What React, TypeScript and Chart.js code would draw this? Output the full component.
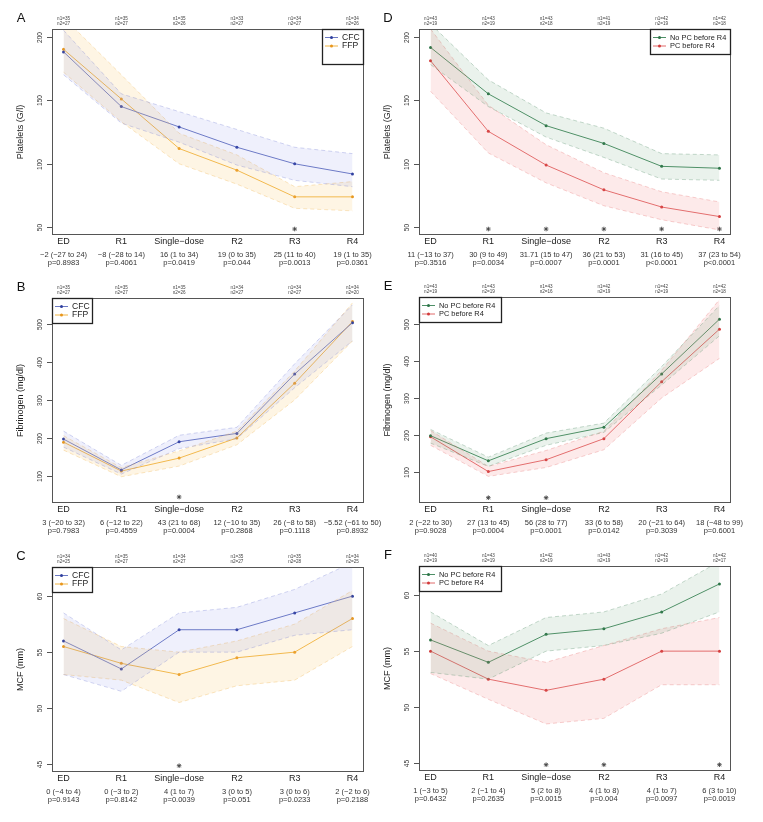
import React, { useEffect, useRef } from "react";
import { Chart, registerables } from "chart.js";
Chart.register(...registerables);

const FONT = '"Liberation Sans", Arial, sans-serif';
const M = "\u2212";

const categories = ["ED", "R1", "Single" + M + "dose", "R2", "R3", "R4"];

// ---------- Panel A: Platelets, CFC vs FFP ----------
const aCfcMean = [188, 145, 129, 113, 100, 92];
const aCfcLow = [170, 132, 117, 99, 87, 82];
const aCfcHigh = [205, 155, 141, 127, 113, 108];
const aFfpMean = [190, 151, 112, 95, 74, 74];
const aFfpLow = [172, 133, 100, 84, 65, 63];
const aFfpHigh = [215, 170, 124, 107, 82, 86];
const aN1 = ["n1=35", "n1=35", "n1=35", "n1=33", "n1=34", "n1=34"];
const aN2 = ["n2=27", "n2=27", "n2=26", "n2=27", "n2=27", "n2=26"];
const aDiff = [M + "2 (" + M + "27 to 24)", M + "8 (" + M + "28 to 14)", "16 (1 to 34)", "19 (0 to 35)", "25 (11 to 40)", "19 (1 to 35)"];
const aP = ["p=0.8983", "p=0.4061", "p=0.0419", "p=0.044", "p=0.0013", "p=0.0361"];
const aStars = ["R3"];
const aTicks = [50, 100, 150, 200];

// ---------- Panel B: Fibrinogen, CFC vs FFP ----------
const bCfcMean = [197, 116, 190, 212, 368, 503];
const bCfcLow = [176, 105, 172, 198, 332, 455];
const bCfcHigh = [218, 128, 207, 228, 395, 550];
const bFfpMean = [189, 113, 147, 200, 344, 506];
const bFfpLow = [168, 98, 126, 182, 300, 455];
const bFfpHigh = [206, 122, 166, 218, 376, 555];
const bN1 = ["n1=35", "n1=35", "n1=35", "n1=34", "n1=34", "n1=34"];
const bN2 = ["n2=27", "n2=27", "n2=26", "n2=27", "n2=27", "n2=20"];
const bDiff = ["3 (" + M + "20 to 32)", "6 (" + M + "12 to 22)", "43 (21 to 68)", "12 (" + M + "10 to 35)", "26 (" + M + "8 to 58)", M + "5.52 (" + M + "61 to 50)"];
const bP = ["p=0.7983", "p=0.4559", "p=0.0004", "p=0.2868", "p=0.1118", "p=0.8932"];
const bStars = ["Single" + M + "dose"];
const bTicks = [100, 200, 300, 400, 500];

// ---------- Panel C: MCF, CFC vs FFP ----------
const cCfcMean = [56, 53.5, 57, 57, 58.5, 60];
const cCfcLow = [53, 51.5, 55, 55, 56.5, 57];
const cCfcHigh = [58.5, 55.2, 58.5, 59, 60.6, 63];
const cFfpMean = [55.5, 54, 53, 54.5, 55, 58];
const cFfpLow = [53, 52.5, 50.5, 52, 52.5, 55.5];
const cFfpHigh = [58, 55.5, 55, 56, 57.5, 60.5];
const cN1 = ["n1=34", "n1=35", "n1=34", "n1=35", "n1=35", "n1=34"];
const cN2 = ["n2=25", "n2=27", "n2=27", "n2=27", "n2=28", "n2=25"];
const cDiff = ["0 (" + M + "4 to 4)", "0 (" + M + "3 to 2)", "4 (1 to 7)", "3 (0 to 5)", "3 (0 to 6)", "2 (" + M + "2 to 6)"];
const cP = ["p=0.9143", "p=0.8142", "p=0.0039", "p=0.051", "p=0.0233", "p=0.2188"];
const cStars = ["Single" + M + "dose"];
const cTicks = [45, 50, 55, 60];

// ---------- Panel D: Platelets, No PC vs PC before R4 ----------
const dNoMean = [191.5, 155, 130, 116, 98, 96.5];
const dNoLow = [178, 145, 121, 105, 88, 87];
const dNoHigh = [210, 166, 140, 128, 108, 107];
const dPcMean = [181, 125.5, 99, 79.5, 66, 58.5];
const dPcLow = [157, 108.5, 85, 67, 56, 48];
const dPcHigh = [206, 146, 115, 93, 78, 70];
const dN1 = ["n1=43", "n1=43", "n1=43", "n1=41", "n1=42", "n1=42"];
const dN2 = ["n2=19", "n2=19", "n2=18", "n2=19", "n2=19", "n2=18"];
const dDiff = ["11 (" + M + "13 to 37)", "30 (9 to 49)", "31.71 (15 to 47)", "36 (21 to 53)", "31 (16 to 45)", "37 (23 to 54)"];
const dP = ["p=0.3516", "p=0.0034", "p=0.0007", "p=0.0001", "p<0.0001", "p<0.0001"];
const dStars = ["R1", "Single" + M + "dose", "R2", "R3", "R4"];

// ---------- Panel E: Fibrinogen, No PC vs PC before R4 ----------
const eNoMean = [198, 130, 190, 221, 365, 513];
const eNoLow = [178, 115, 172, 207, 335, 468];
const eNoHigh = [215, 140, 205, 232, 385, 550];
const ePcMean = [195, 101, 133, 190, 344, 486];
const ePcLow = [172, 88, 112, 160, 300, 407];
const ePcHigh = [212, 115, 158, 210, 375, 566];
const eN1 = ["n1=43", "n1=43", "n1=43", "n1=42", "n1=42", "n1=42"];
const eN2 = ["n2=19", "n2=19", "n2=16", "n2=19", "n2=19", "n2=18"];
const eDiff = ["2 (" + M + "22 to 30)", "27 (13 to 45)", "56 (28 to 77)", "33 (6 to 58)", "20 (" + M + "21 to 64)", "18 (" + M + "48 to 99)"];
const eP = ["p=0.9028", "p=0.0004", "p=0.0001", "p=0.0142", "p=0.3039", "p=0.6001"];
const eStars = ["R1", "Single" + M + "dose"];

// ---------- Panel F: MCF, No PC vs PC before R4 ----------
const fNoMean = [56, 54, 56.5, 57, 58.5, 61];
const fNoLow = [53.1, 52.5, 55, 55.5, 56.6, 58.5];
const fNoHigh = [58.5, 55.5, 58, 58.5, 60.1, 63];
const fPcMean = [55, 52.5, 51.5, 52.5, 55, 55];
const fPcLow = [53, 50.7, 48.5, 49, 52, 52];
const fPcHigh = [57.5, 55, 54, 55.5, 57, 58];
const fN1 = ["n1=40", "n1=43", "n1=42", "n1=43", "n1=42", "n1=42"];
const fN2 = ["n2=19", "n2=19", "n2=19", "n2=19", "n2=19", "n2=17"];
const fDiff = ["1 (" + M + "3 to 5)", "2 (" + M + "1 to 4)", "5 (2 to 8)", "4 (1 to 8)", "4 (1 to 7)", "6 (3 to 10)"];
const fP = ["p=0.6432", "p=0.2635", "p=0.0015", "p=0.004", "p=0.0097", "p=0.0019"];
const fStars = ["Single" + M + "dose", "R2", "R4"];

const groupLabelsTreat = ["CFC", "FFP"];
const groupLabelsPC = ["No PC before R4", "PC before R4"];

const STYLE = {
  cfc: { line: "#6b79c2", point: "#2f3f9e", band: "rgba(120,130,230,0.12)", edge: "rgba(110,120,210,0.38)" },
  ffp: { line: "#f0b444", point: "#e8961c", band: "rgba(252,205,120,0.2)", edge: "rgba(240,185,90,0.45)" },
  no: { line: "#4d8f66", point: "#2c7447", band: "rgba(90,155,110,0.13)", edge: "rgba(80,140,100,0.4)" },
  pc: { line: "#e06a6a", point: "#d23a3a", band: "rgba(245,130,130,0.17)", edge: "rgba(230,110,110,0.4)" },
};

type Series = { label: string; mean: number[]; low: number[]; high: number[]; st: any };
type Cfg = {
  letter: string; ox: number; oy: number; w: number; h: number;
  area: { l: number; t: number; r: number; b: number };
  yMin: number; yMax: number; ticks: number[]; title: string;
  series: Series[]; n1: string[]; n2: string[]; diff: string[]; p: string[];
  stars: string[]; starLevel: number;
  legend: { side: string; w: number; h: number; font: number };
};

const panels: Cfg[] = [
  {
    letter: "A", ox: 0, oy: 0, w: 385, h: 271, area: { l: 52, t: 29, r: 364, b: 235 },
    yMin: 44, yMax: 206, ticks: aTicks, title: "Platelets (G/l)",
    series: [
      { label: groupLabelsTreat[0], mean: aCfcMean, low: aCfcLow, high: aCfcHigh, st: STYLE.cfc },
      { label: groupLabelsTreat[1], mean: aFfpMean, low: aFfpLow, high: aFfpHigh, st: STYLE.ffp },
    ],
    n1: aN1, n2: aN2, diff: aDiff, p: aP, stars: aStars, starLevel: 48.7,
    legend: { side: "right", w: 42, h: 36, font: 8.6 },
  },
  {
    letter: "B", ox: 0, oy: 271, w: 385, h: 271, area: { l: 52, t: 298, r: 364, b: 503 },
    yMin: 29, yMax: 568, ticks: bTicks, title: "Fibrinogen (mg/dl)",
    series: [
      { label: groupLabelsTreat[0], mean: bCfcMean, low: bCfcLow, high: bCfcHigh, st: STYLE.cfc },
      { label: groupLabelsTreat[1], mean: bFfpMean, low: bFfpLow, high: bFfpHigh, st: STYLE.ffp },
    ],
    n1: bN1, n2: bN2, diff: bDiff, p: bP, stars: bStars, starLevel: 44.8,
    legend: { side: "left", w: 41, h: 26, font: 8.6 },
  },
  {
    letter: "C", ox: 0, oy: 541, w: 385, h: 281, area: { l: 52, t: 567, r: 364, b: 772 },
    yMin: 44.3, yMax: 62.6, ticks: cTicks, title: "MCF (mm)",
    series: [
      { label: groupLabelsTreat[0], mean: cCfcMean, low: cCfcLow, high: cCfcHigh, st: STYLE.cfc },
      { label: groupLabelsTreat[1], mean: cFfpMean, low: cFfpLow, high: cFfpHigh, st: STYLE.ffp },
    ],
    n1: cN1, n2: cN2, diff: cDiff, p: cP, stars: cStars, starLevel: 44.86,
    legend: { side: "left", w: 41, h: 26, font: 8.6 },
  },
  {
    letter: "D", ox: 378, oy: 0, w: 385, h: 271, area: { l: 419, t: 29, r: 731, b: 235 },
    yMin: 44, yMax: 206, ticks: aTicks, title: "Platelets (G/l)",
    series: [
      { label: groupLabelsPC[0], mean: dNoMean, low: dNoLow, high: dNoHigh, st: STYLE.no },
      { label: groupLabelsPC[1], mean: dPcMean, low: dPcLow, high: dPcHigh, st: STYLE.pc },
    ],
    n1: dN1, n2: dN2, diff: dDiff, p: dP, stars: dStars, starLevel: 48.7,
    legend: { side: "right", w: 81, h: 26, font: 7.4 },
  },
  {
    letter: "E", ox: 378, oy: 271, w: 385, h: 271, area: { l: 419, t: 297, r: 731, b: 503 },
    yMin: 16, yMax: 573, ticks: bTicks, title: "Fibrinogen (mg/dl)",
    series: [
      { label: groupLabelsPC[0], mean: eNoMean, low: eNoLow, high: eNoHigh, st: STYLE.no },
      { label: groupLabelsPC[1], mean: ePcMean, low: ePcLow, high: ePcHigh, st: STYLE.pc },
    ],
    n1: eN1, n2: eN2, diff: eDiff, p: eP, stars: eStars, starLevel: 30.3,
    legend: { side: "left", w: 83, h: 26, font: 7.4 },
  },
  {
    letter: "F", ox: 378, oy: 541, w: 385, h: 281, area: { l: 419, t: 566, r: 731, b: 771 },
    yMin: 44.3, yMax: 62.6, ticks: cTicks, title: "MCF (mm)",
    series: [
      { label: groupLabelsPC[0], mean: fNoMean, low: fNoLow, high: fNoHigh, st: STYLE.no },
      { label: groupLabelsPC[1], mean: fPcMean, low: fPcLow, high: fPcHigh, st: STYLE.pc },
    ],
    n1: fN1, n2: fN2, diff: fDiff, p: fP, stars: fStars, starLevel: 44.86,
    legend: { side: "left", w: 83, h: 26, font: 7.4 },
  },
];

const toPts = (arr: number[]) => arr.map((v, i) => ({ x: i + 1, y: v }));

function makeDecor(cfg: Cfg) {
  return {
    id: "decor" + cfg.letter,
    afterDraw(chart: any) {
      const ctx: CanvasRenderingContext2D = chart.ctx;
      const a = chart.chartArea;
      const xs = chart.scales.x;
      const ys = chart.scales.y;
      ctx.save();
      // frame
      ctx.strokeStyle = "#555";
      ctx.lineWidth = 1;
      ctx.strokeRect(a.left + 0.5, a.top + 0.5, a.right - a.left - 1, a.bottom - a.top - 1);
      // y ticks
      ctx.fillStyle = "#333";
      ctx.font = `6.6px ${FONT}`;
      ctx.textAlign = "center";
      ctx.textBaseline = "middle";
      for (const t of cfg.ticks) {
        const py = Math.round(ys.getPixelForValue(t)) + 0.5;
        ctx.beginPath();
        ctx.moveTo(a.left, py);
        ctx.lineTo(a.left - 5, py);
        ctx.stroke();
        ctx.save();
        ctx.translate(a.left - 12, py);
        ctx.rotate(-Math.PI / 2);
        ctx.fillText(String(t), 0, 0);
        ctx.restore();
      }
      // y title
      ctx.save();
      ctx.translate(a.left - 31, (a.top + a.bottom) / 2);
      ctx.rotate(-Math.PI / 2);
      ctx.font = `9px ${FONT}`;
      ctx.fillStyle = "#222";
      ctx.fillText(cfg.title, 0, 0);
      ctx.restore();
      // x labels
      categories.forEach((c, i) => {
        const px = xs.getPixelForValue(i + 1);
        ctx.fillStyle = "#222";
        ctx.font = `9px ${FONT}`;
        ctx.fillText(c, px, a.bottom + 7);
        ctx.fillStyle = "#333";
        ctx.font = `7.5px ${FONT}`;
        ctx.fillText(cfg.diff[i], px, a.bottom + 19.5);
        ctx.fillText(cfg.p[i], px, a.bottom + 28);
        // n labels
        ctx.font = `4.6px ${FONT}`;
        ctx.fillStyle = "#444";
        ctx.fillText(cfg.n1[i], px, a.top - 10.5);
        ctx.fillText(cfg.n2[i], px, a.top - 5.5);
      });
      // panel letter
      ctx.fillStyle = "#111";
      ctx.font = `13px ${FONT}`;
      ctx.fillText(cfg.letter, a.left - 31, a.top - 10.5);
      // legend
      const L = cfg.legend;
      const bx = L.side === "right" ? a.right - L.w : a.left;
      const by = a.top;
      ctx.fillStyle = "#fff";
      ctx.fillRect(bx, by, L.w, L.h);
      ctx.strokeStyle = "#222";
      ctx.lineWidth = 1.3;
      ctx.strokeRect(bx + 0.5, by + 0.5, L.w - 1, L.h - 1);
      cfg.series.forEach((s, i) => {
        const ly = by + 8.5 + i * 8.5;
        ctx.strokeStyle = s.st.line;
        ctx.lineWidth = 1;
        ctx.beginPath();
        ctx.moveTo(bx + 3, ly);
        ctx.lineTo(bx + 16, ly);
        ctx.stroke();
        ctx.fillStyle = s.st.point;
        ctx.beginPath();
        ctx.arc(bx + 9.5, ly, 1.5, 0, Math.PI * 2);
        ctx.fill();
        ctx.fillStyle = "#222";
        ctx.font = `${L.font}px ${FONT}`;
        ctx.textAlign = "left";
        ctx.fillText(s.label, bx + 20, ly);
        ctx.textAlign = "center";
      });
      ctx.restore();
    },
  };
}

function Panel({ cfg }: { cfg: Cfg }) {
  const ref = useRef<HTMLCanvasElement>(null);
  useEffect(() => {
    const datasets: any[] = [];
    cfg.series.forEach((s) => {
      datasets.push({
        data: toPts(s.high), borderColor: s.st.edge, borderWidth: 0.8, borderDash: [4, 3],
        pointRadius: 0, fill: false, tension: 0,
      });
      datasets.push({
        data: toPts(s.low), borderColor: s.st.edge, borderWidth: 0.8, borderDash: [4, 3],
        pointRadius: 0, fill: "-1", backgroundColor: s.st.band, tension: 0,
      });
    });
    cfg.series.forEach((s) => {
      datasets.push({
        data: toPts(s.mean), borderColor: s.st.line, borderWidth: 1, pointRadius: 1.5,
        pointBackgroundColor: s.st.point, pointBorderWidth: 0, fill: false, tension: 0,
      });
    });
    datasets.push({
      data: cfg.stars.map((c) => ({ x: categories.indexOf(c) + 1, y: cfg.starLevel })),
      showLine: false, pointStyle: "star", pointRadius: 2.3, borderColor: "#444",
      borderWidth: 0.9, backgroundColor: "#444", fill: false,
    });
    const pad = {
      left: cfg.area.l - cfg.ox,
      top: cfg.area.t - cfg.oy,
      right: cfg.ox + cfg.w - cfg.area.r,
      bottom: cfg.oy + cfg.h - cfg.area.b,
    };
    const chart = new Chart(ref.current as HTMLCanvasElement, {
      type: "line",
      data: { datasets },
      options: {
        animation: false,
        responsive: false,
        devicePixelRatio: 1,
        layout: { padding: pad },
        plugins: { legend: { display: false }, tooltip: { enabled: false }, title: { display: false } },
        scales: {
          x: { type: "linear", min: 0.8, max: 6.2, display: false },
          y: { type: "linear", min: cfg.yMin, max: cfg.yMax, display: false },
        },
      } as any,
      plugins: [makeDecor(cfg)],
    });
    return () => chart.destroy();
  }, [cfg]);
  return (
    <canvas
      ref={ref}
      width={cfg.w}
      height={cfg.h}
      style={{ position: "absolute", left: cfg.ox, top: cfg.oy, width: cfg.w, height: cfg.h }}
    />
  );
}

export default function App() {
  return (
    <div style={{ position: "absolute", left: 0, top: 0, width: 763, height: 822, background: "#fff" }}>
      {panels.map((p) => (
        <Panel key={p.letter} cfg={p} />
      ))}
    </div>
  );
}
